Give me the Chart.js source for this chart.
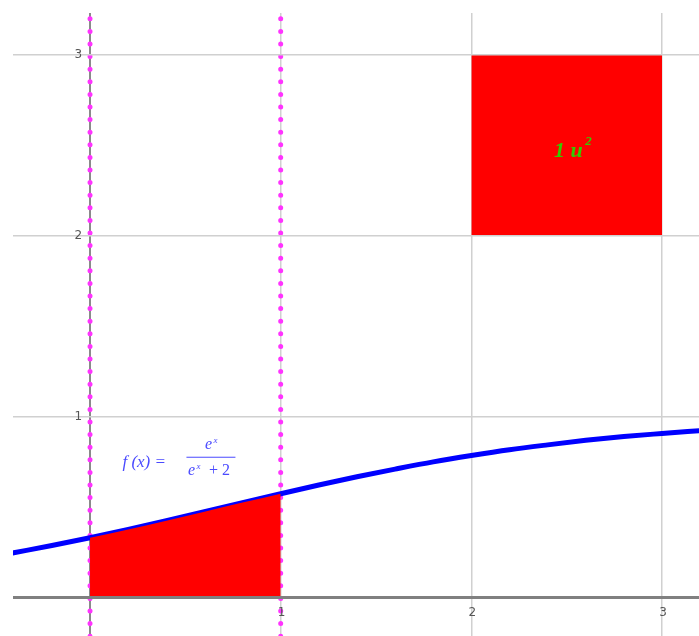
<!DOCTYPE html>
<html>
<head>
<meta charset="utf-8">
<script src="https://cdn.jsdelivr.net/npm/chart.js@4.4.0/dist/chart.umd.min.js"></script>
<style>
  body { margin: 0; background: #fff; }
</style>
</head>
<body>
<canvas id="areaChart" width="699" height="636"></canvas>
<script>
// values
const curveX = [-0.5, -0.4, -0.2, 0, 0.2, 0.4, 0.6, 0.8, 1.0, 1.2, 1.4, 1.6, 1.8, 2.0, 2.2, 2.4, 2.6, 2.8, 3.0, 3.2];
const curveY = [0.23, 0.25, 0.29, 0.333, 0.379, 0.427, 0.477, 0.527, 0.576, 0.624, 0.67, 0.712, 0.752, 0.787, 0.819, 0.846, 0.871, 0.892, 0.909, 0.925];
const shadeFrom = 0;
const shadeTo = 1;
const squareX = [2, 3];
const squareY = [2, 3];
const xTicks = [1, 2, 3];
const yTicks = [1, 2, 3];
const squareLabel = '1 u';

const toPts = (xs, ys) => xs.map((x, i) => ({ x: x, y: ys[i] }));
const curvePts = toPts(curveX, curveY);
const shadePts = curvePts.filter(p => p.x >= shadeFrom && p.x <= shadeTo);

// tick labels + text annotations
const labelsPlugin = {
    id: 'labels',
    afterDraw(chart) {
        const c = chart.ctx;
        const xs = chart.scales.x, ys = chart.scales.y;
        const x0 = xs.getPixelForValue(0), y0 = ys.getPixelForValue(0);
        c.save();
        c.fillStyle = '#555';
        c.font = '12px "DejaVu Sans"';
        c.textAlign = 'right';
        c.textBaseline = 'middle';
        yTicks.forEach(v => c.fillText(String(v), x0 - 8, ys.getPixelForValue(v)));
        c.textAlign = 'center';
        c.textBaseline = 'top';
        xTicks.forEach(v => c.fillText(String(v), xs.getPixelForValue(v) + 1, y0 + 9));

        // area label
        const sx = xs.getPixelForValue(2.53), sy = ys.getPixelForValue(2.47);
        c.fillStyle = '#33cc00';
        c.font = 'italic bold 22px "Liberation Serif"';
        c.textAlign = 'center';
        c.textBaseline = 'middle';
        c.fillText(squareLabel, sx - 4, sy);
        c.font = 'italic bold 13px "Liberation Serif"';
        c.fillText('2', sx + 16, sy - 9);

        // function label
        const fx = xs.getPixelForValue(0.17), fy = ys.getPixelForValue(0.75);
        c.fillStyle = '#4a4aff';
        c.strokeStyle = '#4a4aff';
        c.font = 'italic 17px "Liberation Serif"';
        c.textAlign = 'left';
        c.textBaseline = 'middle';
        c.fillText('f (x) =', fx, fy);
        c.beginPath();
        c.lineWidth = 1;
        c.moveTo(fx + 64, fy - 5);
        c.lineTo(fx + 113, fy - 5);
        c.stroke();
        c.textAlign = 'center';
        c.font = 'italic 16px "Liberation Serif"';
        c.fillText('e', fx + 86, fy - 17);
        c.font = 'italic 9px "Liberation Serif"';
        c.fillText('x', fx + 93, fy - 22);
        c.font = 'italic 16px "Liberation Serif"';
        c.fillText('e', fx + 69, fy + 9);
        c.font = 'italic 9px "Liberation Serif"';
        c.fillText('x', fx + 76, fy + 4);
        c.font = '16px "Liberation Serif"';
        c.fillText('+ 2', fx + 97, fy + 9);
        c.restore();
    }
};

const dotted = x => ({
    data: [{ x: x, y: 3.2 }, { x: x, y: -0.3 }],
    showLine: true,
    borderColor: '#ff33ff',
    borderWidth: 5,
    borderDash: [0, 12.6],
    borderCapStyle: 'round',
    pointRadius: 0
});

new Chart(document.getElementById('areaChart'), {
    type: 'scatter',
    data: {
        datasets: [
            {
                // shaded region under the curve
                data: shadePts,
                showLine: true,
                fill: { value: 0 },
                backgroundColor: '#ff0000',
                borderWidth: 0,
                pointRadius: 0,
                cubicInterpolationMode: 'monotone'
            },
            {
                // unit square
                data: [{ x: squareX[0], y: squareY[1] }, { x: squareX[1], y: squareY[1] }],
                showLine: true,
                fill: { value: squareY[0] },
                backgroundColor: '#ff0000',
                borderWidth: 0,
                pointRadius: 0
            },
            {
                data: curvePts,
                showLine: true,
                borderColor: '#0000ff',
                borderWidth: 5,
                pointRadius: 0,
                cubicInterpolationMode: 'monotone'
            },
            dotted(shadeFrom),
            dotted(shadeTo)
        ]
    },
    options: {
        responsive: false,
        animation: false,
        layout: { padding: { left: 13, top: 13, right: 0, bottom: 0 } },
        plugins: { legend: { display: false }, tooltip: { enabled: false } },
        scales: {
            x: {
                type: 'linear',
                min: -0.404,
                max: 3.194,
                afterBuildTicks: s => { s.ticks = [0].concat(xTicks).map(v => ({ value: v })); },
                ticks: { display: false },
                border: { display: false },
                grid: {
                    drawTicks: false,
                    color: ctx => ctx.tick.value === 0 ? '#8a8a8a' : '#d0d0d0',
                    lineWidth: ctx => ctx.tick.value === 0 ? 2 : 1.5
                }
            },
            y: {
                type: 'linear',
                min: -0.21,
                max: 3.232,
                afterBuildTicks: s => { s.ticks = [0].concat(yTicks).map(v => ({ value: v })); },
                ticks: { display: false },
                border: { display: false },
                grid: {
                    z: 1,
                    drawTicks: false,
                    color: ctx => ctx.tick.value === 0 ? '#808080' : '#d0d0d0',
                    lineWidth: ctx => ctx.tick.value === 0 ? 3 : 1.5
                }
            }
        }
    },
    plugins: [labelsPlugin]
});
</script>
</body>
</html>
